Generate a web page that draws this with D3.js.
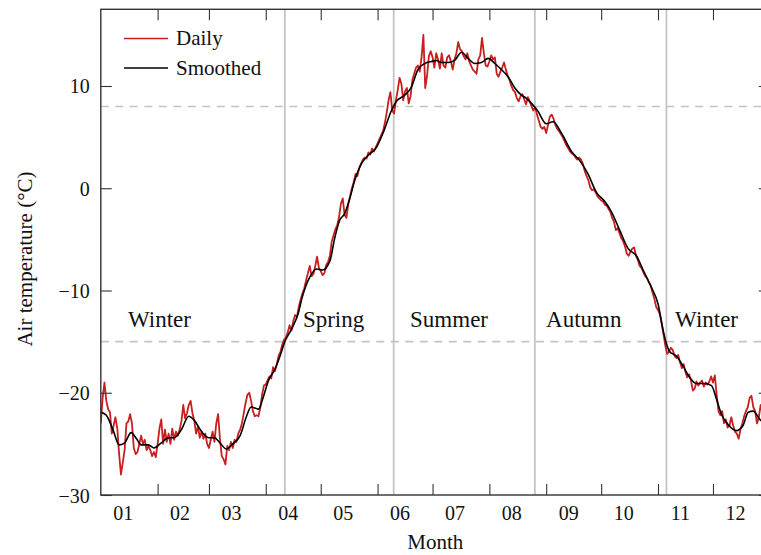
<!DOCTYPE html>
<html>
<head>
<meta charset="utf-8">
<script src="https://cdn.jsdelivr.net/npm/d3@7"></script>
<style>
  html, body { margin: 0; padding: 0; background: #fff; }
  svg { display: block; font-family: "Liberation Serif", "Times New Roman", serif; }
</style>
</head>
<body>
<svg id="chart" width="761" height="555"></svg>
<script>
// ---------------- data ----------------
const monthLabels = ["01","02","03","04","05","06","07","08","09","10","11","12"];
const yTicks = [-30, -20, -10, 0, 10];
const seasonNames = ["Winter", "Spring", "Summer", "Autumn", "Winter"];
const seasonLabelDays = [32, 127, 190, 263.5, 330.5];     // day of year for label centres
const seasonBoundaryDays = [100.4, 159.8, 236.8, 308.6];  // vertical lines
const thresholds = [-15, 8];                              // dashed horizontal lines

// Daily air temperature (°C), day 0 = 1 Jan
const dailyJan = [-23.0,-20.5,-19.0,-20.8,-21.6,-21.9,-24.0,-23.2,-22.4,-23.5,-26.0,-28.0,-26.8,-25.6,-23.0,-22.8,-22.1,-23.0,-25.4,-26.0,-25.8,-25.0,-24.2,-25.0,-24.6,-25.6,-25.2,-25.6,-26.2,-25.8,-26.3];
const dailyFeb = [-25.0,-23.5,-22.6,-25.0,-23.6,-24.8,-24.0,-25.0,-23.5,-24.6,-23.8,-24.2,-23.6,-22.8,-21.2,-22.5,-22.0,-21.2,-20.8,-22.0,-22.7,-24.0,-23.3,-24.4,-23.8,-24.5,-24.0,-25.0];
const dailyMar = [-25.4,-24.6,-23.8,-24.8,-23.0,-22.1,-24.5,-26.2,-26.5,-27.0,-25.2,-25.6,-24.8,-25.4,-24.6,-24.8,-24.0,-23.6,-23.0,-22.0,-21.0,-20.2,-20.0,-20.8,-21.8,-22.3,-22.2,-22.3,-21.5,-20.2,-19.3];
const dailyApr = [-19.2,-18.8,-18.4,-18.6,-17.5,-17.9,-17.2,-16.4,-16.0,-15.3,-14.8,-14.6,-14.1,-13.4,-13.9,-13.0,-12.4,-12.6,-11.6,-10.9,-10.3,-9.8,-9.0,-8.3,-7.6,-8.6,-8.4,-7.6,-6.7,-7.8];
const dailyMay = [-8.1,-8.5,-8.3,-7.5,-7.2,-6.6,-5.2,-4.6,-4.0,-3.6,-2.8,-1.5,-1.0,-2.6,-2.9,-1.6,-0.8,0.0,0.6,1.4,1.2,2.0,2.4,2.8,3.0,2.9,3.5,3.3,3.9,3.6,4.0];
const dailyJun = [4.4,4.8,5.2,5.6,6.4,7.4,8.6,9.4,7.6,7.3,8.6,9.6,10.8,10.2,8.6,9.5,9.8,8.3,9.0,10.6,11.2,11.8,12.0,11.4,12.8,15.0,9.8,11.0,12.9,13.4];
const dailyJul = [12.8,11.8,13.2,12.6,11.7,13.2,12.0,11.8,12.8,13.0,12.4,11.6,12.6,13.2,14.3,13.6,13.4,12.9,12.6,13.2,12.4,12.0,11.6,11.4,11.2,12.6,13.0,14.7,13.2,12.0,11.9];
const dailyAug = [12.4,13.0,12.6,12.8,11.2,10.9,11.4,11.8,12.3,11.6,11.0,10.6,10.0,9.6,9.4,8.8,8.5,9.0,9.2,8.7,8.2,8.9,8.5,8.0,7.6,7.9,7.2,6.6,6.0,5.8,6.0];
const dailySep = [5.4,6.2,7.0,7.2,6.8,6.2,5.8,5.6,5.3,5.0,4.6,4.2,3.9,3.6,3.4,3.3,3.0,2.8,3.0,2.8,2.4,1.7,1.2,0.8,0.1,-0.2,-0.1,-0.4,-0.8,-1.0];
const dailyOct = [-1.2,-1.3,-1.6,-1.7,-2.0,-2.3,-2.9,-3.3,-4.1,-3.9,-4.4,-4.9,-5.2,-5.7,-6.4,-6.6,-6.2,-5.9,-5.8,-6.6,-7.0,-7.6,-7.8,-8.2,-8.6,-8.8,-9.2,-9.5,-10.2,-10.8,-11.6];
const dailyNov = [-11.9,-12.3,-13.2,-14.3,-15.4,-16.2,-16.0,-15.6,-15.8,-16.4,-16.6,-16.3,-17.0,-17.6,-17.2,-18.0,-18.5,-18.2,-18.8,-19.8,-19.6,-18.9,-19.3,-19.0,-18.8,-19.4,-19.0,-19.2,-18.9,-18.4];
const dailyDec = [-19.0,-18.3,-20.2,-21.8,-22.2,-21.8,-23.0,-22.6,-23.4,-23.2,-22.4,-23.2,-23.8,-24.0,-24.5,-23.6,-23.0,-22.3,-21.8,-21.4,-20.5,-20.3,-21.4,-21.8,-23.0,-22.4,-21.2,-22.0,-22.6,-23.0,-22.5];

// Smoothed curve, read at key days
const smoothDay = [0,3,7,10,13,16.5,19.5,22,26,29,33,37,40,44,48,51,55,59,62,65,68.5,72,76,79.5,82,86,88.5,91.5,95,97.6,100.4,104,107.6,110,114,117.7,121,125,127.7,130.4,133,136,138.6,142.2,145.8,150.4,154,158.6,161.3,165.8,169.5,173,176.8,180.4,183,186,189.5,193,196.8,200.4,204,207.7,211.3,215,218.6,222.2,225.9,229.5,232.2,235,238.6,243,246.8,251.3,256.8,261.3,265.8,270.4,275,278.6,283.1,287.7,292.2,295.9,300.4,304,306.8,308.6,310.4,314,317.7,321.3,325,329.5,333.2,335.9,338.6,342.2,346.8,350.4,353.2,355.9,360,364];
const smoothTemp = [-21.9,-22.2,-23.8,-25.1,-24.9,-23.9,-24.5,-25.1,-25.1,-25.4,-24.9,-24.4,-24.4,-23.6,-22.3,-22.7,-23.8,-24.4,-24.4,-24.9,-25.5,-25.0,-24.2,-22.3,-21.4,-21.6,-20.5,-18.8,-17.7,-16.5,-15.0,-13.8,-12.3,-10.6,-8.7,-7.9,-8.0,-7.1,-4.8,-3.1,-2.5,-0.9,0.8,2.4,3.2,4.0,5.4,7.6,8.5,9.1,9.9,11.6,12.2,12.4,12.5,12.3,12.3,12.5,13.3,12.7,12.2,12.3,12.7,12.2,11.6,10.9,9.8,9.1,8.8,8.3,7.5,6.3,6.5,5.4,3.6,2.7,1.4,-0.4,-1.3,-2.3,-4.1,-5.9,-6.6,-8.0,-9.7,-11.3,-13.9,-15.2,-16.0,-16.4,-17.4,-18.5,-19.1,-19.1,-19.3,-20.6,-22.1,-23.1,-23.7,-23.2,-21.9,-21.8,-22.7,-23.0];

// ---------------- build ----------------
const daily = [].concat(dailyJan, dailyFeb, dailyMar, dailyApr, dailyMay, dailyJun,
                        dailyJul, dailyAug, dailySep, dailyOct, dailyNov, dailyDec);
const DAY = 864e5;
const t0 = Date.UTC(2015, 0, 1), t1 = Date.UTC(2016, 0, 1);
const dayDate = d => new Date(t0 + d * DAY);

const L = 100.8, R = 769.8, T = 9.3, B = 495;
const x = d3.scaleUtc().domain([new Date(t0), new Date(t1)]).range([L, R]);
const y = d3.scaleLinear().domain([-30, 17.5]).range([B, T]);

const svg = d3.select("#chart");
const axisColor = "#333";

svg.append("defs").append("clipPath").attr("id", "clip")
  .append("rect").attr("x", L).attr("y", T).attr("width", R - L).attr("height", B - T);

// dashed thresholds
svg.append("g").selectAll("line").data(thresholds).join("line")
  .attr("x1", L).attr("x2", R).attr("y1", d => y(d)).attr("y2", d => y(d))
  .attr("stroke", "#c4c4c4").attr("stroke-width", 1.6).attr("stroke-dasharray", "8,6.5");

// season boundaries
svg.append("g").selectAll("line").data(seasonBoundaryDays).join("line")
  .attr("x1", d => x(dayDate(d))).attr("x2", d => x(dayDate(d)))
  .attr("y1", T).attr("y2", B)
  .attr("stroke", "#c4c4c4").attr("stroke-width", 1.8);

// season labels
svg.append("g").selectAll("text").data(seasonNames).join("text")
  .attr("x", (d, i) => x(dayDate(seasonLabelDays[i])))
  .attr("y", 327)
  .attr("text-anchor", "middle")
  .attr("font-size", 23).attr("fill", "#111")
  .text(d => d);

// lines
const plot = svg.append("g").attr("clip-path", "url(#clip)");
const dailyLine = d3.line().x((d, i) => x(dayDate(i))).y(d => y(d));
plot.append("path").datum(daily).attr("d", dailyLine)
  .attr("fill", "none").attr("stroke", "#c81e1e").attr("stroke-width", 1.8)
  .attr("stroke-linejoin", "round");

const smoothLine = d3.line().curve(d3.curveMonotoneX)
  .x((d, i) => x(dayDate(smoothDay[i]))).y(d => y(d));
plot.append("path").datum(smoothTemp).attr("d", smoothLine)
  .attr("fill", "none").attr("stroke", "#000").attr("stroke-width", 1.6)
  .attr("stroke-linejoin", "round");

// axes
const monthStarts = d3.utcMonth.range(new Date(t0), new Date(t1)).slice(1);
const styleAxis = g => {
  g.selectAll("line").attr("stroke", axisColor).attr("stroke-width", 1.1);
  g.select(".domain").remove();
};
svg.append("g").attr("transform", `translate(0,${B})`)
  .call(d3.axisBottom(x).tickValues(monthStarts).tickSize(-11).tickSizeOuter(0).tickFormat(""))
  .call(styleAxis);
svg.append("g").attr("transform", `translate(0,${T})`)
  .call(d3.axisTop(x).tickValues(monthStarts).tickSize(-11).tickSizeOuter(0).tickFormat(""))
  .call(styleAxis);

const fmtY = v => (v < 0 ? "\u2212" + Math.abs(v) : String(v));
svg.append("g").attr("transform", `translate(${L},0)`)
  .call(d3.axisLeft(y).tickValues(yTicks).tickSize(-11).tickSizeOuter(0).tickPadding(11).tickFormat(fmtY))
  .call(styleAxis)
  .call(g => g.selectAll("text").attr("font-size", 20).attr("fill", "#111")
      .attr("font-family", "Liberation Serif, serif").attr("dy", "0.35em"));
svg.append("g").attr("transform", `translate(${R},0)`)
  .call(d3.axisRight(y).tickValues(yTicks).tickSize(-11).tickSizeOuter(0).tickFormat(""))
  .call(styleAxis);

// month labels
const allMonths = d3.utcMonth.range(new Date(t0), new Date(t1));
svg.append("g").selectAll("text").data(monthLabels).join("text")
  .attr("x", (d, i) => x(allMonths[i]) + 22.5)
  .attr("y", 519.5)
  .attr("text-anchor", "middle")
  .attr("font-size", 20).attr("fill", "#111")
  .text(d => d);

// frame
svg.append("rect").attr("x", L).attr("y", T).attr("width", R - L).attr("height", B - T)
  .attr("fill", "none").attr("stroke", axisColor).attr("stroke-width", 1.4);

// axis titles
svg.append("text").attr("x", (L + R) / 2).attr("y", 549)
  .attr("text-anchor", "middle").attr("font-size", 21).attr("fill", "#111")
  .text("Month");
svg.append("text").attr("transform", "translate(32,259) rotate(-90)")
  .attr("text-anchor", "middle").attr("font-size", 21).attr("fill", "#111")
  .text("Air temperature (°C)");

// legend
const legendItems = [
  { label: "Daily", color: "#c81e1e" },
  { label: "Smoothed", color: "#000" }
];
const lg = svg.append("g");
legendItems.forEach((it, i) => {
  const yy = 38.5 + i * 29.5;
  lg.append("line").attr("x1", 124).attr("x2", 168).attr("y1", yy).attr("y2", yy)
    .attr("stroke", it.color).attr("stroke-width", 1.7);
  lg.append("text").attr("x", 176).attr("y", yy).attr("dy", "0.32em")
    .attr("font-size", 21).attr("fill", "#111").text(it.label);
});
</script>
</body>
</html>
